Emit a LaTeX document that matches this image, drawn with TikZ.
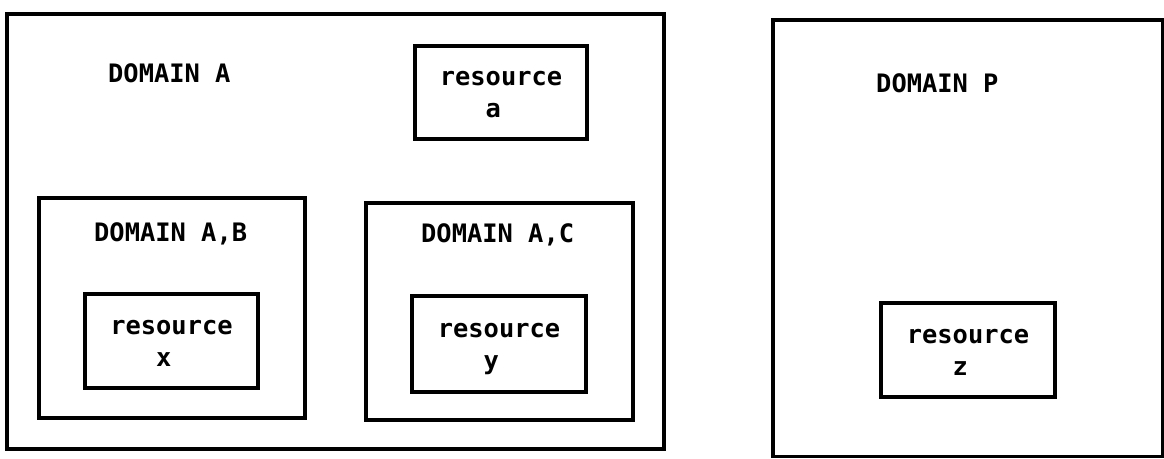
\documentclass[tikz,border=0pt]{standalone}
\usepackage{fontspec}
\setmonofont{DejaVu Sans Mono}
\begin{document}
\begin{tikzpicture}[x=1pt,y=-1pt,
  txt/.style={font=\ttfamily\bfseries\fontsize{25.4}{32}\selectfont},
  domainbox/.style={draw,line width=3.2pt,inner sep=0pt},
  resbox/.style={draw,line width=3.2pt,txt,align=left,inner sep=0pt,
    text height=50pt,text depth=0pt},
  lbl/.style={txt,inner sep=0pt,anchor=base west}]
\useasboundingbox (0,0) rectangle (1164,458);
\fill[white] (0,0) rectangle (1164,458);

% domain A with its two sub-domains
\node[domainbox,minimum width=657pt,minimum height=435pt] (domA) at (335.5,231.5) {};
\node[lbl] (labA) at (108,82) {DOMAIN A};
\node[resbox,minimum width=172pt,minimum height=93pt] (resA) at (501,92.5) {resource\\\hphantom{res}a};

\node[domainbox,minimum width=266pt,minimum height=220pt] (domAB) at (172,308) {};
\node[lbl] (labAB) at (94,241.5) {DOMAIN A,B};
\node[resbox,minimum width=173pt,minimum height=94pt] (resX) at (171.5,341) {resource\\\hphantom{res}x};

\node[domainbox,minimum width=267pt,minimum height=217pt] (domAC) at (499.5,311.5) {};
\node[lbl] (labAC) at (421,242.5) {DOMAIN A,C};
\node[resbox,minimum width=174pt,minimum height=96pt] (resY) at (499,344) {resource\\\hphantom{res}y};

% domain P
\node[domainbox,minimum width=390pt,minimum height=436.5pt] (domP) at (968,238.25) {};
\node[lbl] (labP) at (876,92.5) {DOMAIN P};
\node[resbox,minimum width=174pt,minimum height=94pt] (resZ) at (968,350) {resource\\\hphantom{res}z};
\end{tikzpicture}
\end{document}
